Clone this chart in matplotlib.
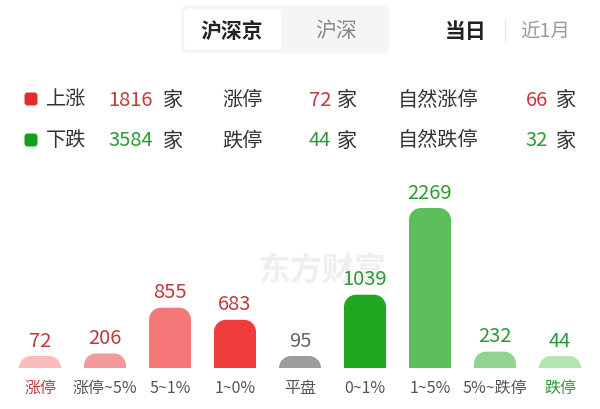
import matplotlib
matplotlib.use('Agg')
import matplotlib.pyplot as plt
from matplotlib.path import Path
from matplotlib.patches import PathPatch, FancyBboxPatch

plt.rcParams['font.family'] = ['Noto Sans CJK SC', 'DejaVu Sans']

# ---------------- data ----------------
categories = ['涨停', '涨停~5%', '5~1%', '1~0%', '平盘', '0~1%', '1~5%', '5%~跌停', '跌停']
counts = [72, 206, 855, 683, 95, 1039, 2269, 232, 44]
bar_colors = ['#f7bcbc', '#f39b9b', '#f47878', '#ef3c3c', '#9c9c9c',
              '#20a823', '#5cbf5c', '#8fd58f', '#b5e4b5']
value_colors = ['#c0393d'] * 4 + ['#666666'] + ['#2e9a32'] * 4
label_colors = ['#c0393d'] + ['#555555'] * 7 + ['#2e9a32']

rise_total, fall_total = 1816, 3584
limit_up, limit_down = 72, 44
natural_up, natural_down = 66, 32

tabs = ['沪深京', '沪深']
periods = ['当日', '近1月']

RED = '#c0393d'
GREEN = '#2e9a32'
DARK = '#333333'

# ---------------- figure ----------------
W, H = 600, 410
fig = plt.figure(figsize=(W / 100, H / 100), dpi=100, facecolor='white')

# overlay axes in pixel coordinates (origin top-left)
ov = fig.add_axes([0, 0, 1, 1], zorder=0)
ov.set_xlim(0, W)
ov.set_ylim(H, 0)
ov.axis('off')

# header tabs
ov.add_patch(FancyBboxPatch((181, 7), 208, 47, boxstyle='round,pad=0,rounding_size=6',
                            fc='#f5f5f7', ec='none'))
ov.add_patch(FancyBboxPatch((184, 10), 97, 41, boxstyle='round,pad=0,rounding_size=5',
                            fc='white', ec='none'))
ov.text(232, 31, tabs[0], fontsize=15, fontweight='bold', color='#222222', ha='center', va='center')
ov.text(336, 31, tabs[1], fontsize=15, color='#888888', ha='center', va='center')
ov.text(466, 31, periods[0], fontsize=15, fontweight='bold', color='#222222', ha='center', va='center')
ov.plot([505, 505], [21, 42], color='#e8e8e8', lw=1)
ov.text(545, 31, periods[1], fontsize=14, color='#9a9a9a', ha='center', va='center')

# summary rows
rows = [
    (100, '#e22b2b', '上涨', rise_total, '涨停', limit_up, '自然涨停', natural_up, RED),
    (141, '#13a11b', '下跌', fall_total, '跌停', limit_down, '自然跌停', natural_down, GREEN),
]
fs = 14.5
for y, sq, lab, tot, lab2, lim, lab3, nat, col in rows:
    ov.add_patch(FancyBboxPatch((24.5, y - 6.5), 13, 13, boxstyle='round,pad=0,rounding_size=3',
                                fc=sq, ec='none'))
    ov.text(46, y, lab, fontsize=fs, color=DARK, ha='left', va='center')
    ov.text(153, y, str(tot), fontsize=fs, color=col, ha='right', va='center')
    ov.text(163, y, '家', fontsize=fs, color=DARK, ha='left', va='center')
    ov.text(222, y, lab2, fontsize=fs, color=DARK, ha='left', va='center')
    ov.text(331, y, str(lim), fontsize=fs, color=col, ha='right', va='center')
    ov.text(337, y, '家', fontsize=fs, color=DARK, ha='left', va='center')
    ov.text(398, y, lab3, fontsize=fs, color=DARK, ha='left', va='center')
    ov.text(548, y, str(nat), fontsize=fs, color=col, ha='right', va='center')
    ov.text(556, y, '家', fontsize=fs, color=DARK, ha='left', va='center')

# watermark
ov.text(322, 272, '东方财富', fontsize=23, fontweight='bold', color='#efefef',
        ha='center', va='center')

# ---------------- bar chart ----------------
base_px = 41          # baseline distance from bottom
top_px = 240
px_per_unit = 160 / 2269
step_px = 65
first_px = 40
ax = fig.add_axes([0, base_px / H, 1, (top_px - base_px) / H], zorder=1)
ax.set_facecolor('none')
ax.set_xlim(-first_px / step_px, (W - first_px) / step_px)
ax.set_ylim(0, (top_px - base_px) / px_per_unit)
ax.axis('off')

bar_w = 42 / step_px
r_px = 12
rx = r_px / step_px
ry_full = r_px / px_per_unit
min_h = 12 / px_per_unit
K = 0.5523


def rounded_top_bar(axis, xc, width, height, color):
    x0, x1 = xc - width / 2, xc + width / 2
    ry = min(ry_full, height)
    verts = [
        (x0, 0), (x0, height - ry),
        (x0, height - ry + K * ry), (x0 + rx - K * rx, height), (x0 + rx, height),
        (x1 - rx, height),
        (x1 - rx + K * rx, height), (x1, height - ry + K * ry), (x1, height - ry),
        (x1, 0), (x0, 0),
    ]
    codes = [Path.MOVETO, Path.LINETO,
             Path.CURVE4, Path.CURVE4, Path.CURVE4,
             Path.LINETO,
             Path.CURVE4, Path.CURVE4, Path.CURVE4,
             Path.LINETO, Path.CLOSEPOLY]
    axis.add_patch(PathPatch(Path(verts, codes), fc=color, ec='none'))


for i, (cat, v) in enumerate(zip(categories, counts)):
    h = max(v, min_h)
    rounded_top_bar(ax, i, bar_w, h, bar_colors[i])
    ax.annotate(str(v), xy=(i, h), xytext=(0, 7.5), textcoords='offset points',
                ha='center', va='baseline', fontsize=14.5, color=value_colors[i],
                annotation_clip=False)
    ax.annotate(cat, xy=(i, 0), xytext=(0, -14), textcoords='offset points',
                ha='center', va='center', fontsize=11.5, color=label_colors[i],
                annotation_clip=False)

fig.savefig('out.png', dpi=100, facecolor='white')
